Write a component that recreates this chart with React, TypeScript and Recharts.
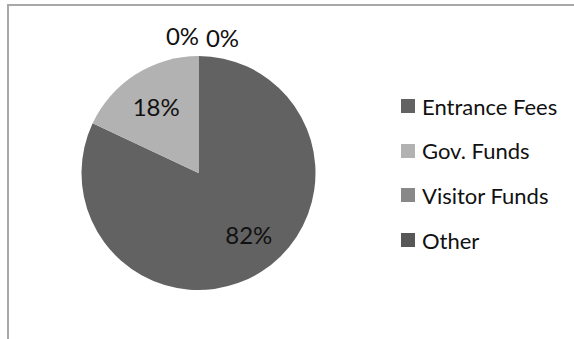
import { PieChart, Pie, Cell } from 'recharts';

const categories = ['Entrance Fees', 'Gov. Funds', 'Visitor Funds', 'Other'];
const shares = [82, 18, 0, 0];
const COLORS = ['#626262', '#b2b2b2', '#888888', '#575757'];

const data = categories.map((name, i) => ({ name, value: shares[i] }));

// Excel "best fit" label placement, approximated
const LABEL_NUDGE = [
  [8, -5],
  [0, 0],
  [-16, -1],
  [24, 1],
];

const FONT = 'Lato, "Liberation Sans", sans-serif';
const RAD = Math.PI / 180;

const renderLabel = (props: any) => {
  const { cx, cy, midAngle, outerRadius, percent, index, value } = props;
  const r = value === 0 ? outerRadius + 20 : outerRadius * 0.675;
  const [dx, dy] = LABEL_NUDGE[index] || [0, 0];
  const x = cx + r * Math.cos(-midAngle * RAD) + dx;
  const y = cy + r * Math.sin(-midAngle * RAD) + dy;
  return (
    <text
      x={x}
      y={y}
      textAnchor="middle"
      dominantBaseline="central"
      fill="#111"
      fontSize={24}
      fontFamily={FONT}
    >
      {`${Math.round(percent * 100)}%`}
    </text>
  );
};

function ChartLegend() {
  return (
    <div style={{ position: 'absolute', left: 401, top: 83.7, fontFamily: FONT, fontSize: 22, color: '#111' }}>
      {categories.map((name, i) => (
        <div key={`legend-${name}`} style={{ display: 'flex', alignItems: 'center', height: 44.7 }}>
          <span
            style={{
              display: 'inline-block',
              width: 14,
              height: 14,
              marginRight: 7,
              background: COLORS[i],
            }}
          />
          <span>{name}</span>
        </div>
      ))}
    </div>
  );
}

export default function App() {
  return (
    <div
      style={{
        position: 'absolute',
        left: 0,
        top: 0,
        width: 574,
        height: 339,
        overflow: 'hidden',
        background: '#fff',
      }}
    >
      <div
        style={{
          position: 'absolute',
          left: 7,
          top: 4,
          width: 620,
          height: 400,
          border: '2px solid #a8a8a8',
          boxSizing: 'border-box',
        }}
      />
      <div style={{ position: 'absolute', left: 0, top: 0 }}>
        <PieChart width={574} height={339} margin={{ top: 0, right: 0, bottom: 0, left: 0 }}>
          <Pie
            data={data}
            dataKey="value"
            nameKey="name"
            cx={198.5}
            cy={173}
            outerRadius={117}
            startAngle={90}
            endAngle={-270}
            stroke="none"
            labelLine={false}
            label={renderLabel}
            isAnimationActive={false}
          >
            {data.map((entry, i) => (
              <Cell key={`cell-${entry.name}`} fill={COLORS[i]} />
            ))}
          </Pie>
        </PieChart>
      </div>
      <ChartLegend />
    </div>
  );
}
